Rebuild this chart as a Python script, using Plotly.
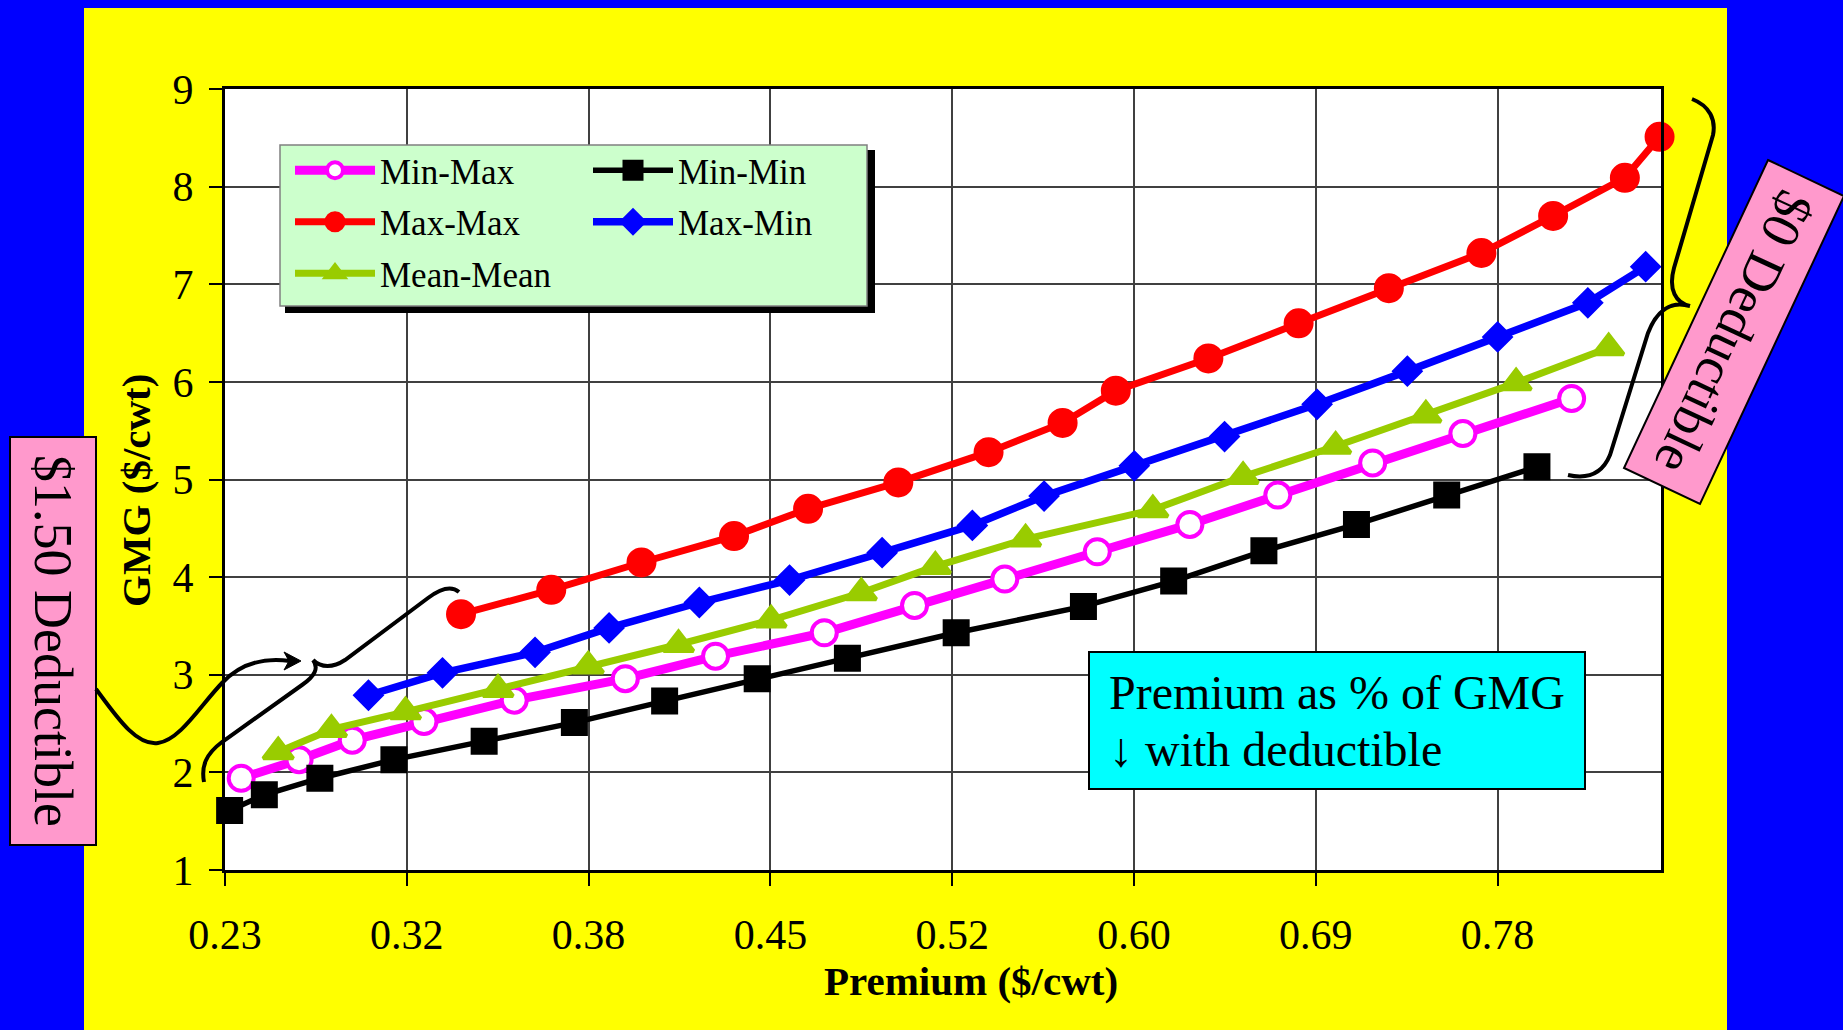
import plotly.graph_objects as go

# ---- data: premium ($/cwt) vs. gross margin guarantee GMG ($/cwt) ----
min_max_premium = [0.237, 0.262, 0.285, 0.316, 0.355, 0.403, 0.442, 0.489,
                   0.528, 0.567, 0.607, 0.647, 0.685, 0.726, 0.765, 0.812]
min_max_gmg = [1.94, 2.13, 2.33, 2.52, 2.74, 2.96, 3.19, 3.43,
               3.71, 3.98, 4.26, 4.54, 4.84, 5.17, 5.47, 5.83]

min_min_premium = [0.232, 0.247, 0.271, 0.303, 0.342, 0.381, 0.420, 0.460,
                   0.499, 0.546, 0.601, 0.640, 0.679, 0.719, 0.758, 0.797]
min_min_gmg = [1.61, 1.77, 1.94, 2.13, 2.32, 2.51, 2.73, 2.96,
               3.17, 3.43, 3.70, 3.96, 4.27, 4.54, 4.84, 5.13]

max_max_premium = [0.332, 0.371, 0.410, 0.450, 0.482, 0.521, 0.560, 0.592,
                   0.615, 0.655, 0.694, 0.733, 0.773, 0.804, 0.835, 0.850]
max_max_gmg = [3.62, 3.87, 4.15, 4.42, 4.70, 4.97, 5.28, 5.58,
               5.91, 6.24, 6.60, 6.96, 7.32, 7.70, 8.09, 8.51]

max_min_premium = [0.292, 0.324, 0.364, 0.396, 0.435, 0.474, 0.514, 0.553,
                   0.584, 0.623, 0.662, 0.702, 0.741, 0.780, 0.819, 0.844]
max_min_gmg = [2.79, 3.02, 3.23, 3.48, 3.74, 3.97, 4.25, 4.53,
               4.83, 5.14, 5.44, 5.77, 6.11, 6.46, 6.81, 7.18]

mean_mean_premium = [0.253, 0.276, 0.308, 0.348, 0.387, 0.426, 0.466, 0.505,
                     0.537, 0.576, 0.631, 0.670, 0.710, 0.749, 0.788, 0.828]
mean_mean_gmg = [2.21, 2.44, 2.62, 2.85, 3.09, 3.31, 3.56, 3.84,
                 4.11, 4.39, 4.69, 5.03, 5.34, 5.66, 5.99, 6.35]

x_tick_labels = ["0.23", "0.32", "0.38", "0.45", "0.52", "0.60", "0.69", "0.78"]
y_ticks = [1, 2, 3, 4, 5, 6, 7, 8, 9]

# ---- page geometry (pixels) ----
FIG_W, FIG_H = 1843, 1030
L, R, T, B = 225, 1661, 89, 870
W, H = R - L, B - T
X0, X_STEP = 0.23, 0.55 / 7
X_MAX = X0 + (R - L) / 181.8 * X_STEP
FONT = "Liberation Serif"


def px(x):
    return (x - L) / W


def py(y):
    return (B - y) / H


def svg_path(cmds):
    out = []
    for cmd, pts in cmds:
        out.append(cmd + " " + " ".join(f"{px(x):.5f},{py(y):.5f}" for x, y in pts))
    return " ".join(out)


def rect(x0, y0, x1, y1, fill, line_color=None, line_width=0, layer="above"):
    return dict(type="rect", xref="paper", yref="paper",
                x0=px(x0), x1=px(x1), y0=py(y1), y1=py(y0),
                fillcolor=fill, layer=layer,
                line=dict(color=line_color or fill, width=line_width))


fig = go.Figure()

# marker outlines in the series colour keep the legend symbols large as well
series = [
    ("Min-Max", min_max_premium, min_max_gmg, "legend",
     dict(color="#FF00FF", width=9),
     dict(symbol="circle", size=25, color="white", line=dict(color="#FF00FF", width=4))),
    ("Min-Min", min_min_premium, min_min_gmg, "legend2",
     dict(color="black", width=5.5),
     dict(symbol="square", size=22, color="black", line=dict(color="black", width=5))),
    ("Max-Max", max_max_premium, max_max_gmg, "legend",
     dict(color="#FF0000", width=7),
     dict(symbol="circle", size=25, color="#FF0000", line=dict(color="#FF0000", width=5))),
    ("Max-Min", max_min_premium, max_min_gmg, "legend2",
     dict(color="#0000FF", width=7.5),
     dict(symbol="diamond", size=19, color="#0000FF", line=dict(color="#0000FF", width=5))),
    ("Mean-Mean", mean_mean_premium, mean_mean_gmg, "legend",
     dict(color="#99CC00", width=7),
     dict(symbol="triangle-up", size=26, color="#99CC00", line=dict(color="#99CC00", width=4))),
]

for name, xs, ys, leg, line, marker in series:
    fig.add_trace(go.Scatter(
        x=xs, y=ys, name=name, mode="lines+markers",
        line=line, marker=marker, cliponaxis=False,
        legend=leg, legendgroup=name,
    ))

shapes = [
    # blue slide frame around the yellow panel
    rect(0, 0, 84, FIG_H, "#0000FF", layer="below"),
    rect(0, 0, FIG_W, 8, "#0000FF", layer="below"),
    rect(1727, 0, FIG_W, FIG_H, "#0000FF", layer="below"),
    # legend panel with drop shadow
    rect(285, 150, 875, 313, "black"),
    rect(280, 145, 867, 306, "#CCFFCC", "#808080", 1.5),
    # call-out box
    rect(1089, 652, 1585, 789, "#00FFFF", "black", 2),
    # left deductible label box
    rect(10, 437, 96, 845, "#FF99CC", "black", 2),
    # right deductible label box (tilted)
    dict(type="path", xref="paper", yref="paper", layer="above",
         path=svg_path([("M", [(1768, 160)]), ("L", [(1844, 196)]),
                        ("L", [(1700, 504)]), ("L", [(1624, 468)])]) + " Z",
         fillcolor="#FF99CC", line=dict(color="black", width=2)),
    # right curly brace spanning the $0 deductible curves
    dict(type="path", xref="paper", yref="paper", layer="above",
         path=svg_path([
             ("M", [(1692, 99)]),
             ("C", [(1710, 106), (1716, 120), (1713, 135)]),
             ("L", [(1674, 268)]),
             ("C", [(1668, 290), (1676, 303), (1690, 306)]),
             ("M", [(1690, 306)]),
             ("C", [(1670, 300), (1656, 312), (1648, 333)]),
             ("L", [(1610, 455)]),
             ("C", [(1603, 472), (1590, 480), (1568, 475)]),
         ]),
         line=dict(color="black", width=4)),
    # left curly brace spanning the $1.50 deductible curve starts
    dict(type="path", xref="paper", yref="paper", layer="above",
         path=svg_path([
             ("M", [(204, 782)]),
             ("C", [(201, 766), (206, 754), (222, 742)]),
             ("L", [(302, 685)]),
             ("C", [(315, 676), (319, 668), (313, 660)]),
             ("M", [(313, 660)]),
             ("C", [(321, 668), (333, 668), (345, 660)]),
             ("L", [(428, 598)]),
             ("C", [(440, 589), (451, 585), (459, 592)]),
         ]),
         line=dict(color="black", width=4)),
    # curved arrow from the left label to the brace
    dict(type="path", xref="paper", yref="paper", layer="above",
         path=svg_path([
             ("M", [(96, 689)]),
             ("C", [(116, 716), (136, 746), (158, 743)]),
             ("C", [(180, 740), (200, 706), (222, 683)]),
             ("C", [(240, 664), (262, 657), (290, 661)]),
         ]),
         line=dict(color="black", width=4)),
    dict(type="path", xref="paper", yref="paper", layer="above",
         path=svg_path([("M", [(301, 661)]), ("L", [(284, 652)]),
                        ("L", [(289, 661)]), ("L", [(284, 670)])]) + " Z",
         fillcolor="black", line=dict(color="black", width=1)),
]

annotations = [
    dict(text="<b>Premium ($/cwt)</b>", x=px(971), y=py(981), xref="paper", yref="paper",
         showarrow=False, xanchor="center", yanchor="middle",
         font=dict(family=FONT, size=41, color="black")),
    dict(text="<b>GMG ($/cwt)</b>", x=px(136), y=py(491), xref="paper", yref="paper",
         showarrow=False, textangle=-90, xanchor="center", yanchor="middle",
         font=dict(family=FONT, size=41, color="black")),
    dict(text="$1.50 Deductible", x=px(53), y=py(641), xref="paper", yref="paper",
         showarrow=False, textangle=90, xanchor="center", yanchor="middle",
         font=dict(family=FONT, size=54, color="black")),
    dict(text="$0 Deductible", x=px(1734), y=py(332), xref="paper", yref="paper",
         showarrow=False, textangle=115, xanchor="center", yanchor="middle",
         font=dict(family=FONT, size=54, color="black")),
    dict(text="Premium as % of GMG", x=px(1107), y=py(692), xref="paper", yref="paper",
         showarrow=False, xanchor="left", yanchor="middle",
         font=dict(family=FONT, size=48, color="black")),
    dict(text="\u2193 with deductible", x=px(1107), y=py(749), xref="paper", yref="paper",
         showarrow=False, xanchor="left", yanchor="middle",
         font=dict(family=FONT, size=48, color="black")),
]

legend_style = dict(
    yanchor="top", xanchor="left", y=py(141),
    bgcolor="rgba(0,0,0,0)", borderwidth=0,
    font=dict(family=FONT, size=35, color="black"),
    itemwidth=80, tracegroupgap=3, orientation="v",
)

fig.update_layout(
    width=FIG_W, height=FIG_H,
    margin=dict(l=L, r=FIG_W - R, t=T, b=FIG_H - B),
    paper_bgcolor="#FFFF00",
    plot_bgcolor="white",
    showlegend=True,
    legend=dict(x=px(290), **legend_style),
    legend2=dict(x=px(588), **legend_style),
    shapes=shapes,
    annotations=annotations,
    xaxis=dict(
        range=[X0, X_MAX],
        tickvals=[X0 + i * X_STEP for i in range(len(x_tick_labels))],
        ticktext=x_tick_labels,
        ticks="outside", ticklen=13, tickwidth=1.5, tickcolor="black",
        ticklabelstandoff=13,
        tickfont=dict(family=FONT, size=42, color="black"),
        showgrid=True, gridcolor="#404040", gridwidth=1.5,
        showline=True, linecolor="black", linewidth=3, mirror=True,
        zeroline=False,
    ),
    yaxis=dict(
        range=[1, 9],
        tickvals=y_ticks,
        ticks="outside", ticklen=13, tickwidth=1.5, tickcolor="black",
        ticklabelstandoff=7,
        tickfont=dict(family=FONT, size=42, color="black"),
        showgrid=True, gridcolor="#404040", gridwidth=1.5,
        showline=True, linecolor="black", linewidth=3, mirror=True,
        zeroline=False,
    ),
)

fig.write_html("out.html")
